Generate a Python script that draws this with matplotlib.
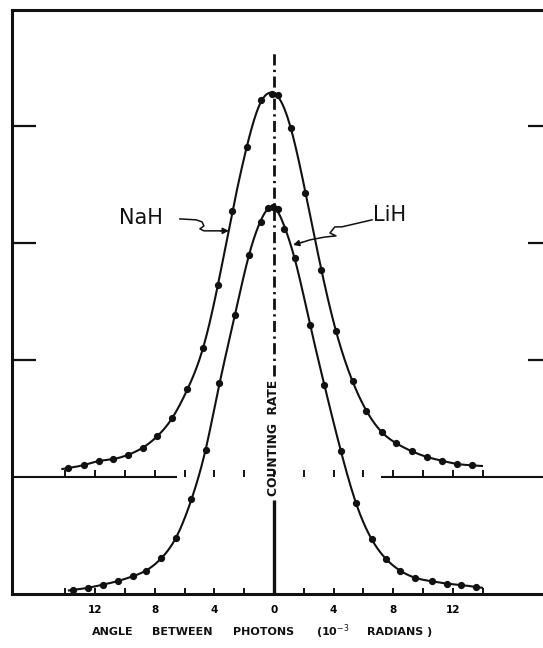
import numpy as np
import matplotlib
matplotlib.use("Agg")
import matplotlib.pyplot as plt

# ---------------- data ----------------
# angle in 10^-3 rad ; counting rate in arbitrary units
nah_angle = [-13.8, -12.75, -11.75, -10.8, -9.8, -8.8, -7.83, -6.83, -5.83, -4.74,
             -3.76, -2.79, -1.81, -0.87, -0.13, 0.27, 1.14, 2.11, 3.18, 4.16,
             5.28, 6.2, 7.25, 8.2, 9.26, 10.27, 11.28, 12.28, 13.29]
nah_rate = [0.077, 0.10, 0.14, 0.15, 0.19, 0.25, 0.35, 0.50, 0.75, 1.10,
            1.64, 2.27, 2.82, 3.22, 3.27, 3.26, 2.98, 2.43, 1.77, 1.245,
            0.817, 0.567, 0.38, 0.29, 0.22, 0.17, 0.14, 0.11, 0.10]
nah_offset = 1.0          # NaH curve is drawn above a raised baseline

lih_angle = [-13.5, -12.5, -11.5, -10.48, -9.48, -8.57, -7.55, -6.56, -5.55, -4.56,
             -3.68, -2.59, -1.69, -0.87, -0.4, -0.07, 0.27, 0.67, 1.41, 2.41,
             3.38, 4.5, 5.5, 6.55, 7.52, 8.48, 9.47, 10.6, 11.6, 12.57, 13.56]
lih_rate = [0.035, 0.052, 0.08, 0.11, 0.153, 0.2, 0.31, 0.48, 0.81, 1.23,
            1.80, 2.385, 2.90, 3.18, 3.30, 3.31, 3.29, 3.12, 2.87, 2.30,
            1.79, 1.22, 0.775, 0.47, 0.30, 0.20, 0.138, 0.11, 0.088, 0.077, 0.06]

nah_curve_range = (-14.2, 13.96)
lih_curve_range = (-13.76, 13.96)

xtick_values = [-12, -8, -4, 0, 4, 8, 12]
xtick_labels = ["12", "8", "4", "0", "4", "8", "12"]
minor_tick_values = list(range(-14, 15, 2))
ytick_values = [2, 3, 4]


# ---------------- helpers ----------------
def smooth_curve(x, y, a, b, n=500, mu=3e-2):
    """Penalised least-squares smoothing curve (hand-drawn style) through points."""
    x = np.asarray(x, float); y = np.asarray(y, float)
    g = np.linspace(a, b, n)
    h = g[1] - g[0]
    B = np.zeros((len(x), n))
    for i, xv in enumerate(x):
        k = min(max(int((xv - a) / h), 0), n - 2)
        t = (xv - g[k]) / h
        B[i, k] = 1 - t
        B[i, k + 1] = t
    D = np.zeros((n - 2, n))
    idx = np.arange(n - 2)
    D[idx, idx] = 1; D[idx, idx + 1] = -2; D[idx, idx + 2] = 1
    lam = mu / h**3
    f = np.linalg.solve(B.T @ B + lam * D.T @ D, B.T @ y)
    return g, f


# ---------------- figure ----------------
W, H = 543, 648
fig = plt.figure(figsize=(W / 100, H / 100), dpi=100)
ax = fig.add_axes([12 / W, 54 / H, 540 / W, 584 / H])
ax.set_xlim(-17.58, 18.66)
ax.set_ylim(0, 4.99)

ink = "#111111"
for s in ["left", "top", "bottom"]:
    ax.spines[s].set_linewidth(2.2)
    ax.spines[s].set_color(ink)
ax.spines["right"].set_visible(False)

# x ticks (inward, pointing up)
ax.set_xticks(xtick_values)
ax.set_xticklabels(xtick_labels)
ax.set_xticks(minor_tick_values, minor=True)
ax.tick_params(axis="x", which="both", direction="in", length=4.5, width=1.4,
               color=ink, pad=8, labelsize=7.5)
for lab in ax.get_xticklabels():
    lab.set_fontweight("bold")

# y ticks on both sides, inward, no labels
ax.set_yticks(ytick_values)
ax.tick_params(axis="y", which="both", direction="in", length=17.5, width=1.6,
               color=ink, left=True, right=True, labelleft=False)

# raised baseline for NaH with ticks
xl = ax.get_xlim()
ax.plot([xl[0], -6.5], [nah_offset, nah_offset], color=ink, lw=1.5, solid_capstyle="butt")
ax.plot([7.18, xl[1]], [nah_offset, nah_offset], color=ink, lw=1.5, solid_capstyle="butt")
ax.vlines(minor_tick_values, nah_offset, nah_offset + 0.06, color=ink, lw=1.4)

# central dash-dot line and label
ax.plot([0, 0], [1.86, 4.62], color=ink, lw=2.0, linestyle=(0, (4, 1.6, 0.8, 1.6)))
ax.plot([0, 0], [0, 0.80], color=ink, lw=2.4, solid_capstyle="butt")
ax.text(0, 1.33, "COUNTING  RATE", rotation=90, ha="center", va="center",
        fontsize=8.8, fontweight="bold", color=ink)

# curves
gx, gy = smooth_curve(nah_angle, nah_rate, *nah_curve_range)
ax.plot(gx, gy + nah_offset, color=ink, lw=1.5)
ax.plot(nah_angle, np.asarray(nah_rate) + nah_offset, "o", color=ink, ms=4.2)

gx, gy = smooth_curve(lih_angle, lih_rate, *lih_curve_range)
ax.plot(gx, gy, color=ink, lw=1.5)
ax.plot(lih_angle, lih_rate, "o", color=ink, ms=4.2)

# labels with wavy arrows
ax.text(-8.93, 3.214, "NaH", ha="center", va="center", fontsize=15, color=ink)
ax.text(7.79, 3.24, "LiH", ha="center", va="center", fontsize=15, color=ink)

nah_arrow_x = [-6.31, -5.23, -4.83, -4.70, -4.97, -4.70, -4.16, -3.6]
nah_arrow_y = [3.205, 3.197, 3.18, 3.145, 3.12, 3.103, 3.103, 3.103]
ax.plot(nah_arrow_x, nah_arrow_y, color=ink, lw=1.1)
ax.annotate("", xy=(-3.02, 3.103), xytext=(-3.6, 3.103),
            arrowprops=dict(arrowstyle="-|>", color=ink, lw=1.1,
                            mutation_scale=9, shrinkA=0, shrinkB=0))

lih_arrow_x = [6.58, 4.56, 4.09, 3.76, 4.16, 3.42, 2.42, 1.9]
lih_arrow_y = [3.197, 3.137, 3.137, 3.085, 3.06, 3.05, 3.026, 3.005]
ax.plot(lih_arrow_x, lih_arrow_y, color=ink, lw=1.1)
ax.annotate("", xy=(1.28, 2.983), xytext=(1.9, 3.005),
            arrowprops=dict(arrowstyle="-|>", color=ink, lw=1.1,
                            mutation_scale=9, shrinkA=0, shrinkB=0))

# x-axis title, word by word (letter-spaced lettering)
words = ["ANGLE", "BETWEEN", "PHOTONS", "(10$^{-3}$", "RADIANS )"]
word_px = [113, 182.5, 263.5, 333, 400]
for w, xp in zip(words, word_px):
    fig.text(xp / W, 1 - 632 / H, w, ha="center", va="center",
             fontsize=8, fontweight="bold", color=ink)

fig.savefig("out.png", dpi=100)
